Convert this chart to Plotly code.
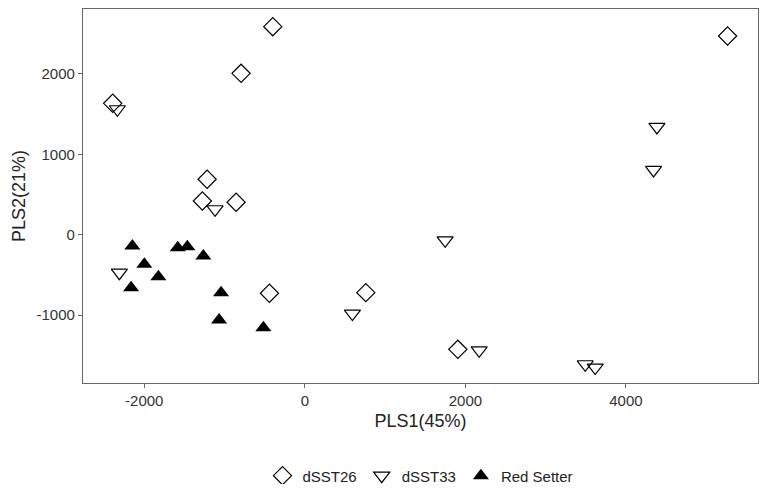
import plotly.graph_objects as go

# scores
dsst26_x = [-2393, -399, -794, -1217, -1276, -856, -441, 760, 1906, 5266]
dsst26_y = [1634, 2587, 2007, 689, 419, 403, -729, -721, -1426, 2471]

dsst33_x = [-2335, -1118, -2310, 593, 1748, 2172, 3493, 3617, 4386, 4344]
dsst33_y = [1560, 316, -473, -982, -70, -1438, -1612, -1654, 1340, 805]

red_x = [-2148, -1999, -1824, -2164, -1583, -1463, -1264, -1043, -1068, -516]
red_y = [-141, -368, -522, -659, -162, -149, -265, -721, -1061, -1157]

x_ticks = [-2000, 0, 2000, 4000]
x_ticklabels = ["-2000", "0", "2000", "4000"]
y_ticks = [-1000, 0, 1000, 2000]
y_ticklabels = ["-1000", "0", "1000", "2000"]

fig = go.Figure()

fig.add_trace(go.Scatter(
    x=dsst26_x, y=dsst26_y, mode="markers", name="dSST26",
    marker=dict(symbol="diamond-open", size=14, color="black", line=dict(width=1.2)),
))
fig.add_trace(go.Scatter(
    x=dsst33_x, y=dsst33_y, mode="markers", name="dSST33",
    marker=dict(symbol="triangle-down-open", size=14, color="black", line=dict(width=1.2)),
))
fig.add_trace(go.Scatter(
    x=red_x, y=red_y, mode="markers", name="Red Setter",
    marker=dict(symbol="triangle-up", size=14, color="black"),
))

axis_style = dict(
    showgrid=False, zeroline=False, showline=True, mirror=True,
    linecolor="#666666", linewidth=1.2, automargin=False,
    ticks="outside", ticklen=4, tickcolor="#666666",
    tickfont=dict(size=15, color="#333333"),
)

fig.update_xaxes(
    range=[-2763, 5645], tickvals=x_ticks, ticktext=x_ticklabels,
    title=dict(text="PLS1(45%)", font=dict(size=18, color="#222222"), standoff=6),
    **axis_style,
)
fig.update_yaxes(
    range=[-1845, 2807], tickvals=y_ticks, ticktext=y_ticklabels,
    title=dict(text="PLS2(21%)", font=dict(size=18, color="#222222"), standoff=6),
    **axis_style,
)

# page adds an 8px body margin, so the figure is sized to sit inside the window
fig.update_layout(
    width=753, height=476,
    margin=dict(l=75, r=3, t=1, b=101),
    plot_bgcolor="white", paper_bgcolor="white",
    font=dict(family="Liberation Sans, Arial, sans-serif", color="#222222"),
    legend=dict(
        orientation="h", x=0.5, xanchor="center",
        yref="container", y=0.017, yanchor="middle",
        font=dict(size=15), itemwidth=30,
    ),
)

fig.write_html("out.html")
